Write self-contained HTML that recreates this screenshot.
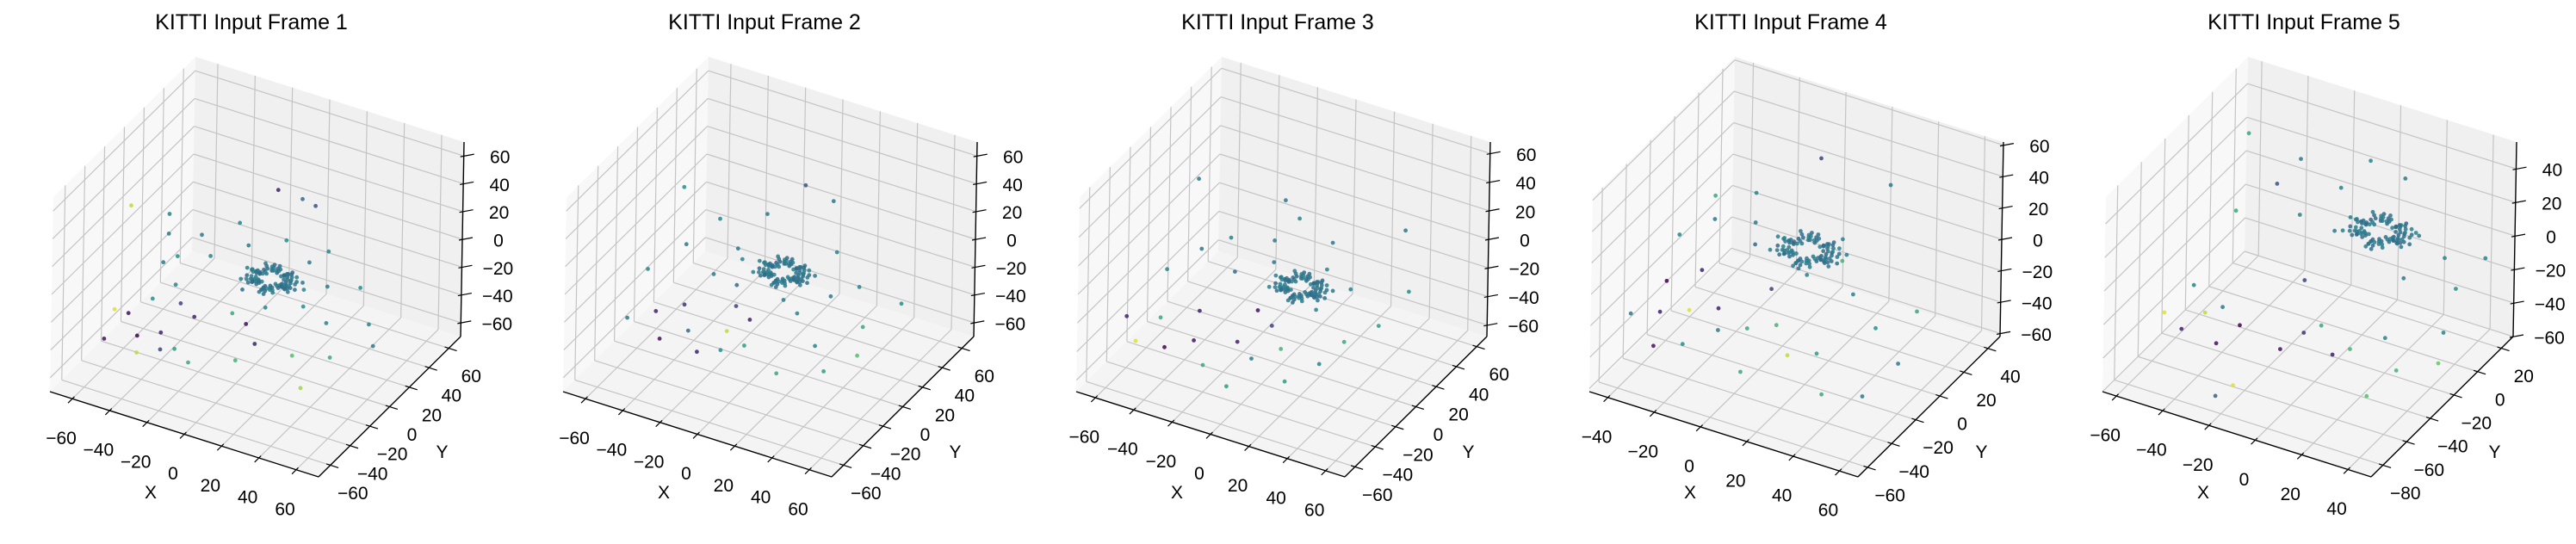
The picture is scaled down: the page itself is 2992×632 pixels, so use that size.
<!DOCTYPE html>
<html><head><meta charset="utf-8"><title>KITTI Input Frames</title>
<style>
html,body{margin:0;padding:0;background:#fff;}
svg{display:block;font-family:"Liberation Sans",sans-serif;}
</style></head>
<body>
<svg id="fig" width="2992" height="632" viewBox="0 0 2992 632" xmlns="http://www.w3.org/2000/svg"></svg>
<script>
// ---- data ----
const titles = ["KITTI Input Frame 1","KITTI Input Frame 2","KITTI Input Frame 3","KITTI Input Frame 4","KITTI Input Frame 5"];
const xRanges = [[-72,72],[-72,72],[-70,70],[-48,68],[-66,50]];
const yRanges = [[-72,72],[-72,72],[-70,70],[-68,50],[-90,30]];
const zRanges = [[-70,70],[-70,70],[-68,68],[-62,62],[-60,56]];
const xTicks = [[-60,-40,-20,0,20,40,60],[-60,-40,-20,0,20,40,60],[-60,-40,-20,0,20,40,60],[-40,-20,0,20,40,60],[-60,-40,-20,0,20,40]];
const yTicks = [[-60,-40,-20,0,20,40,60],[-60,-40,-20,0,20,40,60],[-60,-40,-20,0,20,40,60],[-60,-40,-20,0,20,40],[-80,-60,-40,-20,0,20]];
const zTicks = [[-60,-40,-20,0,20,40,60],[-60,-40,-20,0,20,40,60],[-60,-40,-20,0,20,40,60],[-60,-40,-20,0,20,40,60],[-60,-40,-20,0,20,40]];
const ringCenters = [[5,5,-10],[3,8,-8],[8,2,-12],[5,10,-6],[2,10,-4]];
const ringScales = [0.5,0.65,0.8];
const ringOffsets = [[12,0],[11,5],[9,9],[5,11],[0,12],[-5,11],[-9,8],[-11,4],[-12,0],[-11,-5],[-8,-9],[-4,-11],[0,-12],[5,-11],[9,-8],[11,-4],[15,2],[13,8],[7,14],[-2,15],[-10,12],[-15,5],[-14,-4],[-9,-12],[0,-15],[8,-13],[14,-6],[17,-2],[18,6],[-17,2],[-6,16],[4,-17],[16,-9],[-16,-8]];
const pts1 = [[-50,-35,-30,0.05],[-40,-45,-35,0.0],[-30,-40,-32,0.1],[-45,-20,-28,0.5],[-60,-30,-35,0.95],[-55,-50,-40,0.05],[-35,-55,-38,0.9],[-25,-50,-35,0.2],[-20,-45,-36,0.55],[-10,-50,-38,0.6],[-30,-20,-25,0.2],[-20,-25,-27,0.1],[-38,-10,-22,0.45],[-50,0,-18,0.4],[-55,15,-10,0.4],[-40,20,-8,0.4],[-60,25,-5,0.45],[-30,10,-12,0.45],[-65,-5,20,0.9],[-10,40,23,0.1],[3,40,22,0.35],[10,40,20,0.25],[20,10,-15,0.45],[25,0,-18,0.5],[30,15,-12,0.4],[40,-5,-20,0.45],[45,20,-10,0.5],[55,10,-25,0.45],[50,-20,-30,0.6],[35,-30,-28,0.7],[60,5,-35,0.4],[15,-30,-28,0.1],[5,-20,-25,0.05],[-5,-15,-25,0.6],[10,-40,-35,0.65],[45,-40,-40,0.85],[-15,20,-5,0.4],[-25,30,0,0.45],[0,30,-2,0.5],[20,35,-5,0.45],[-5,-5,-15,0.35],[10,-10,-18,0.45],[15,25,-8,0.4],[-45,5,-15,0.5]];
const pts2 = [[-55,-40,-32,0.4],[-45,-30,-30,0.1],[-35,-45,-35,0.05],[-25,-35,-32,0.35],[-15,-45,-36,0.1],[-5,-40,-34,0.5],[5,-35,-30,0.55],[-60,-10,-20,0.45],[-50,10,-12,0.4],[-40,25,0,0.45],[-62,30,10,0.5],[-30,0,-18,0.4],[-20,10,-10,0.45],[-10,-15,-22,0.2],[0,-20,-24,0.1],[20,-10,-18,0.45],[30,5,-12,0.4],[40,15,-8,0.45],[50,0,-22,0.6],[55,-15,-30,0.7],[45,-30,-35,0.55],[25,-40,-38,0.6],[60,20,-15,0.5],[-5,45,25,0.25],[10,45,20,0.4],[20,30,-2,0.45],[-20,35,5,0.4],[-35,-20,-28,0.15],[-8,-28,-30,0.9],[35,-20,-28,0.45],[-15,-5,-16,0.35],[10,-5,-16,0.4],[-25,15,-8,0.4]];
const pts3 = [[-60,-40,-32,0.1],[-50,-50,-38,0.95],[-45,-35,-30,0.6],[-35,-50,-36,0.0],[-25,-40,-34,0.05],[-15,-50,-40,0.6],[-5,-35,-30,0.1],[5,-40,-34,0.4],[15,-30,-30,0.65],[25,-45,-38,0.55],[-55,-10,-18,0.45],[-45,5,-10,0.4],[-60,30,15,0.4],[-35,15,-5,0.45],[-25,0,-14,0.35],[-15,20,-2,0.4],[-5,-15,-22,0.05],[5,-20,-25,0.2],[20,-5,-18,0.45],[30,10,-10,0.45],[40,-15,-25,0.6],[50,0,-20,0.55],[55,20,-8,0.5],[45,35,20,0.4],[-10,35,5,0.45],[10,30,0,0.4],[-30,-25,-26,0.1],[35,-30,-32,0.45],[-20,40,10,0.4],[0,-55,-45,0.55],[-10,10,-8,0.4],[15,15,-6,0.45]];
const pts4 = [[-45,-40,-32,0.4],[-40,-20,-24,0.0],[-35,-35,-30,0.1],[-30,-50,-38,0.05],[-25,-30,-28,0.95],[-20,-45,-36,0.5],[-15,-25,-26,0.1],[-10,-35,-30,0.4],[0,-30,-28,0.6],[10,-25,-25,0.65],[20,-35,-32,0.9],[30,-30,-30,0.55],[40,-45,-40,0.6],[55,-40,-38,0.4],[-45,0,-12,0.45],[-40,20,0,0.6],[-35,10,-5,0.4],[-25,25,5,0.45],[-15,5,-8,0.35],[0,-10,-18,0.2],[10,0,-12,0.45],[20,10,-6,0.65],[30,0,-15,0.45],[45,-10,-22,0.5],[55,5,-18,0.6],[-5,40,25,0.2],[25,40,22,0.4],[-30,-10,-20,0.1],[5,-45,-42,0.6],[60,-20,-30,0.4],[-20,15,-4,0.4],[15,20,-2,0.45]];
const pts5 = [[-60,-50,-38,0.95],[-55,-35,-30,0.45],[-50,-55,-40,0.1],[-45,-45,-35,0.9],[-40,-40,-33,0.4],[-35,-55,-42,0.05],[-30,-45,-36,0.0],[-20,-70,-50,0.95],[-25,-75,-55,0.3],[-10,-50,-38,0.05],[-5,-40,-33,0.15],[0,-35,-30,0.6],[10,-45,-36,0.1],[15,-40,-34,0.65],[25,-30,-30,0.45],[35,-40,-38,0.65],[45,-20,-25,0.45],[40,0,-15,0.5],[30,10,-8,0.45],[20,-5,-14,0.4],[-55,0,-10,0.6],[-45,15,0,0.25],[-40,25,10,0.4],[-30,5,-5,0.45],[-20,20,5,0.45],[-60,20,20,0.6],[-10,25,22,0.45],[5,25,18,0.4],[45,15,-5,0.45],[30,-55,-45,0.7],[48,-30,-35,0.75],[-15,-20,-20,0.2],[-15,5,-8,0.4],[15,15,-3,0.45]];
const allPts = [pts1,pts2,pts3,pts4,pts5];

// ---- layout ----
const EX=[312,99], EY=[165,-163], EZ=[4,-226];
const viridis=[[68,1,84],[59,82,139],[33,145,140],[94,201,98],[253,231,37]];
function cmap(c){c=Math.max(0,Math.min(1,c));const s=c*4,i=Math.min(3,Math.floor(s)),f=s-i;const a=viridis[i],b=viridis[i+1];
 return `rgb(${Math.round(a[0]+(b[0]-a[0])*f)},${Math.round(a[1]+(b[1]-a[1])*f)},${Math.round(a[2]+(b[2]-a[2])*f)})`;}
const NS='http://www.w3.org/2000/svg';
const svg=document.getElementById('fig');
function mk(tag,attrs,parent){const e=document.createElementNS(NS,tag);for(const k in attrs)e.setAttribute(k,attrs[k]);parent.appendChild(e);return e;}

for(let p=0;p<5;p++){
  const g=mk('g',{},svg);
  
  
  const O=[58+596*p,455];
  const xr=xRanges[p],yr=yRanges[p],zr=zRanges[p];
  const nx=v=>(v-xr[0])/(xr[1]-xr[0]), ny=v=>(v-yr[0])/(yr[1]-yr[0]), nz=v=>(v-zr[0])/(zr[1]-zr[0]);
  const P=(a,b,c)=>[O[0]+a*EX[0]+b*EY[0]+c*EZ[0], O[1]+a*EX[1]+b*EY[1]+c*EZ[1]];
  const poly=(pts,fill,name)=>{const e=mk('polygon',{points:pts.map(q=>q.join(',')).join(' '),fill:fill},g);
    
    };
  poly([P(0,0,0),P(0,1,0),P(0,1,1),P(0,0,1)],'#f8f8f8','pane-left');
  poly([P(0,1,0),P(1,1,0),P(1,1,1),P(0,1,1)],'#f0f0f0','pane-back');
  poly([P(0,0,0),P(1,0,0),P(1,1,0),P(0,1,0)],'#f4f4f4','pane-floor');
  const line=(a,b,col,w,name)=>{const e=mk('line',{x1:a[0],y1:a[1],x2:b[0],y2:b[1],stroke:col,'stroke-width':w},g);
    
    return e;};
  const GC='#c4c4c4';
  xTicks[p].forEach(v=>{const a=nx(v);line(P(a,0,0),P(a,1,0),GC,1.2,'grid-x');line(P(a,1,0),P(a,1,1),GC,1.2,'grid-x');});
  yTicks[p].forEach(v=>{const b=ny(v);line(P(0,b,0),P(1,b,0),GC,1.2,'grid-y');line(P(0,b,0),P(0,b,1),GC,1.2,'grid-y');});
  zTicks[p].forEach(v=>{const c=nz(v);line(P(0,0,c),P(0,1,c),GC,1.2,'grid-z');line(P(0,1,c),P(1,1,c),GC,1.2,'grid-z');});
  line(P(0,0,0),P(1,0,0),'#000',1.4,'x-axis-line');
  line(P(1,0,0),P(1,1,0),'#000',1.4,'y-axis-line');
  line(P(1,1,0),P(1,1,1),'#000',1.4,'z-axis-line');
  const txt=(x,y,s,size,name,anchor)=>{const e=mk('text',{x:x,y:y,'font-size':size,'text-anchor':anchor||'middle','dominant-baseline':'central',fill:'#000'},g);e.textContent=s;
    
    };
  const lab=v=>(v<0?'\u2212'+(-v):''+v);
  xTicks[p].forEach(v=>{const a=nx(v);line(P(a,-0.03,0),P(a,0.015,0),'#000',1.2,'x-tick');const q=P(a,0,0);txt(q[0]-13,q[1]+46,lab(v),21,'x-tick-label');});
  yTicks[p].forEach(v=>{const b=ny(v);line(P(1.03,b,0),P(0.985,b,0),'#000',1.2,'y-tick');const q=P(1,b,0);txt(q[0]+26,q[1]+33,lab(v),21,'y-tick-label');});
  zTicks[p].forEach(v=>{const c=nz(v);const q=P(1,1,c);line([q[0]-4,q[1]+1],[q[0]+12,q[1]-2],'#000',1.2,'z-tick');txt(q[0]+42,q[1]+2,lab(v),21,'z-tick-label');});
  const mx=P(0.5,0,0);txt(mx[0]-39,mx[1]+68,'X',21,'x-axis-title');
  const my=P(1,0.5,0);txt(my[0]+61,my[1]+53,'Y',21,'y-axis-title');
  txt(292+596*p,26,titles[p],25,'subplot-title');
  const draw=(x,y,z,c,name)=>{const q=P(nx(x),ny(y),nz(z));const e=mk('circle',{cx:q[0].toFixed(1),cy:q[1].toFixed(1),r:2.4,fill:cmap(c),'fill-opacity':0.85},g);
    
    };
  allPts[p].forEach(d=>draw(d[0],d[1],d[2],d[3],'scatter-point'));
  const rc=ringCenters[p];
  ringScales.forEach((s,k)=>ringOffsets.forEach((o,i)=>draw(rc[0]+o[0]*s,rc[1]+o[1]*s,rc[2]+(i%3)-1,0.34+((i+k)%4)*0.03,'ring-point')));
}
</script>
</body></html>
